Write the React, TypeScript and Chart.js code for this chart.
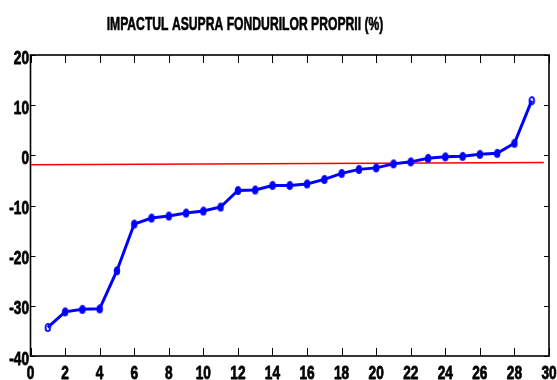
import React, { useEffect, useRef } from "react";
import { Chart, registerables } from "chart.js";

Chart.register(...registerables);

const titleText = "IMPACTUL ASUPRA FONDURILOR PROPRII (%)";
const bankIndex = [1, 2, 3, 4, 5, 6, 7, 8, 9, 10, 11, 12, 13, 14, 15, 16, 17, 18, 19, 20, 21, 22, 23, 24, 25, 26, 27, 28, 29];
const impactValues = [-34.3, -31.2, -30.7, -30.6, -23.0, -13.7, -12.5, -12.1, -11.5, -11.1, -10.3, -7.0, -6.9, -6.0, -6.0, -5.7, -4.8, -3.6, -2.8, -2.5, -1.7, -1.3, -0.6, -0.3, -0.2, 0.2, 0.4, 2.4, 10.9];
const refLineX = [0, 29.7];
const refLineY = [-1.9, -1.45];
const xMin = 0;
const xMax = 30;
const xStep = 2;
const yMin = -40;
const yMax = 20;
const yStep = 10;

const FONT = "'Liberation Sans', Arial, sans-serif";

function makeMarker(filled: boolean): HTMLCanvasElement {
  const c = document.createElement("canvas");
  c.width = 8;
  c.height = 11;
  const ctx = c.getContext("2d")!;
  ctx.strokeStyle = "#0000ff";
  ctx.fillStyle = "#0000ff";
  ctx.lineWidth = 1.8;
  ctx.beginPath();
  ctx.ellipse(4, 5.5, 2.3, 3.7, 0, 0, Math.PI * 2);
  if (filled) ctx.fill();
  ctx.stroke();
  return c;
}

function narrowText(ctx: CanvasRenderingContext2D, text: string, x: number, y: number, sx: number, align: CanvasTextAlign, bolden: number) {
  ctx.save();
  ctx.translate(x, y);
  ctx.scale(sx, 1);
  ctx.textAlign = align;
  ctx.textBaseline = "alphabetic";
  ctx.fillText(text, 0, 0);
  if (bolden > 0) {
    ctx.lineWidth = bolden;
    ctx.strokeStyle = "#000";
    ctx.lineJoin = "round";
    ctx.strokeText(text, 0, 0);
  }
  ctx.restore();
}

const framePlugin = {
  id: "matlabFrame",
  beforeDatasetsDraw(chart: any) {
    const { ctx, chartArea, scales } = chart;
    const { left, right, top, bottom } = chartArea;
    ctx.save();
    ctx.strokeStyle = "#000";
    ctx.lineWidth = 1;
    const xs = scales.x;
    const ys = scales.y;
    xs.ticks.forEach((t: any) => {
      const px = Math.round(xs.getPixelForValue(t.value)) + 0.5;
      ctx.beginPath();
      ctx.moveTo(px, bottom);
      ctx.lineTo(px, bottom - 8);
      ctx.moveTo(px, top);
      ctx.lineTo(px, top + 8);
      ctx.stroke();
    });
    ys.ticks.forEach((t: any) => {
      const py = Math.round(ys.getPixelForValue(t.value)) + 0.5;
      ctx.beginPath();
      ctx.moveTo(left, py);
      ctx.lineTo(left + 5, py);
      ctx.moveTo(right, py);
      ctx.lineTo(right - 5, py);
      ctx.stroke();
    });
    ctx.lineWidth = 1.6;
    ctx.strokeRect(left, top, right - left, bottom - top);

    ctx.fillStyle = "#000";
    ctx.font = `bold 19px ${FONT}`;
    xs.ticks.forEach((t: any) => {
      const px = xs.getPixelForValue(t.value);
      narrowText(ctx, String(t.value), px, 379, 0.72, "center", 0.8);
    });
    ys.ticks.forEach((t: any) => {
      const py = ys.getPixelForValue(t.value);
      narrowText(ctx, String(t.value), 29, py + 8.5, 0.72, "right", 0.8);
    });
    ctx.restore();
  },
  afterDraw(chart: any) {
    const { ctx } = chart;
    ctx.save();
    ctx.fillStyle = "#000";
    ctx.font = `bold 19px ${FONT}`;
    narrowText(ctx, titleText, 245, 29.5, 0.64, "center", 0.6);
    ctx.restore();
  },
};

export default function App() {
  const canvasRef = useRef<HTMLCanvasElement | null>(null);

  useEffect(() => {
    document.body.style.margin = "0";
    const canvas = canvasRef.current;
    if (!canvas) return;
    const openMarker = makeMarker(false);
    const filledMarker = makeMarker(true);
    const lastIndex = impactValues.length - 1;
    const chart = new Chart(canvas, {
      type: "scatter",
      data: {
        datasets: [
          {
            label: "impact",
            data: bankIndex.map((x, i) => ({ x, y: impactValues[i] })),
            showLine: true,
            borderColor: "#0000ff",
            borderWidth: 3,
            pointStyle: ((ctx: any) => (ctx.dataIndex === 0 || ctx.dataIndex === lastIndex ? openMarker : filledMarker)) as any,
            pointRadius: 4,
            pointHoverRadius: 4,
            backgroundColor: "#0000ff",
            order: 1,
          },
          {
            label: "ref",
            data: refLineX.map((x, i) => ({ x, y: refLineY[i] })),
            showLine: true,
            borderColor: "#ff0000",
            borderWidth: 1.5,
            pointRadius: 0,
            order: 2,
          },
        ],
      },
      options: {
        animation: false,
        responsive: false,
        events: [],
        layout: { padding: { top: 55, right: 8, left: 0, bottom: 0 } },
        plugins: {
          legend: { display: false },
          title: { display: false },
          tooltip: { enabled: false },
        },
        scales: {
          x: {
            type: "linear",
            min: xMin,
            max: xMax,
            grid: { display: false },
            border: { display: false },
            ticks: {
              display: false,
              stepSize: xStep,
              autoSkip: false,
            },
            afterFit: (s: any) => {
              s.height = 24;
            },
          },
          y: {
            type: "linear",
            min: yMin,
            max: yMax,
            grid: { display: false },
            border: { display: false },
            ticks: {
              display: false,
              stepSize: yStep,
              autoSkip: false,
            },
            afterFit: (s: any) => {
              s.width = 30.5;
            },
          },
        },
      },
      plugins: [framePlugin],
    });
    return () => chart.destroy();
  }, []);

  return (
    <div style={{ width: 557, height: 380 }}>
      <canvas ref={canvasRef} width={557} height={380} style={{ display: "block" }} />
    </div>
  );
}
